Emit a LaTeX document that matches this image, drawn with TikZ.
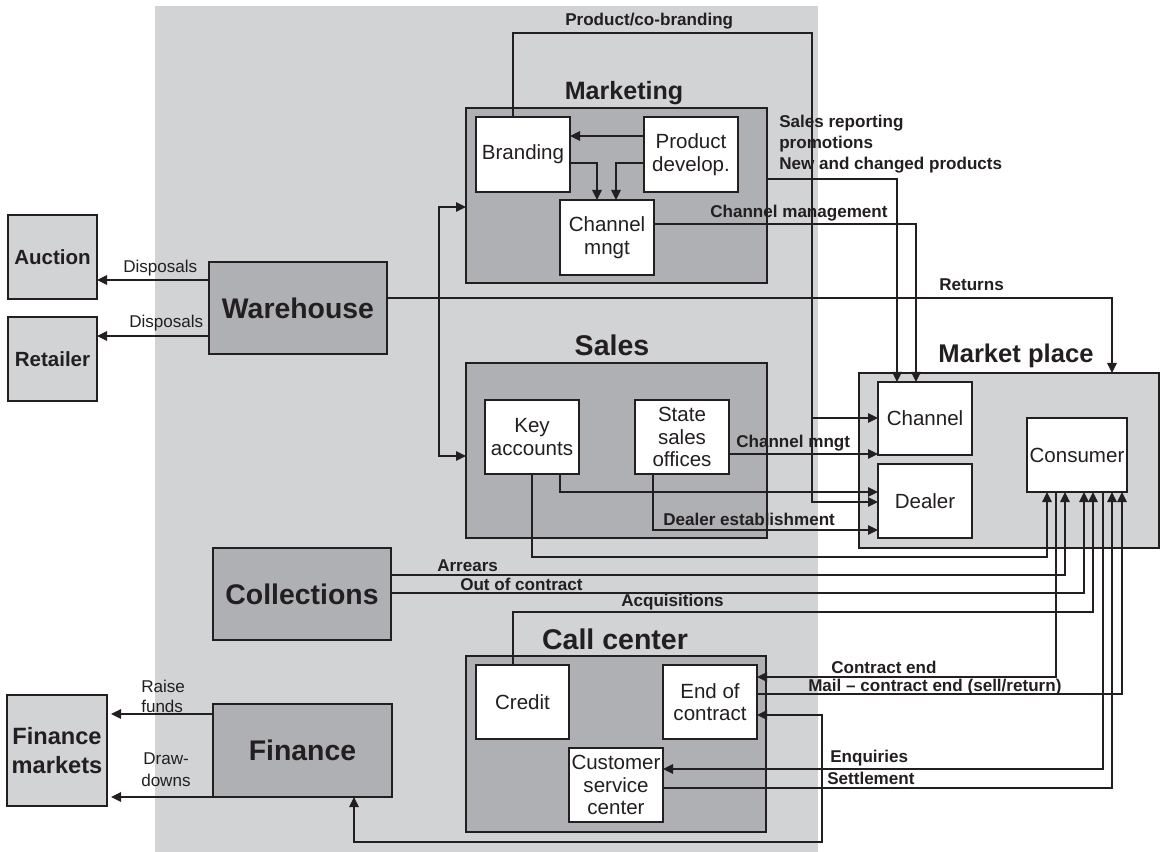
\documentclass[tikz,border=0pt]{standalone}
\usepackage{fontspec}
\setmainfont{Liberation Sans}
\usetikzlibrary{arrows.meta}
\definecolor{lightg}{HTML}{D1D3D4}
\definecolor{darkg}{HTML}{AFB0B3}
\definecolor{linec}{HTML}{231F20}
\newcommand\mkbox[7]{\node[#1, minimum width={(#5-#3)*0.75pt}, minimum height={(#6-#4)*0.75pt}] (#2) at ({(#3+#5)/2},{(#4+#6)/2}) {#7};}
\begin{document}
\begin{tikzpicture}[x=0.75pt,y=-0.75pt,
  box/.style={draw=linec, line width=1pt, inner sep=0pt, outer sep=0pt, align=center, text=linec},
  dbox/.style={box, fill=darkg, font=\bfseries\fontsize{21.3}{24}\selectfont},
  cbox/.style={box, fill=darkg},
  lbox/.style={box, fill=lightg},
  ext/.style={lbox, font=\bfseries\fontsize{15.4}{21.5}\selectfont},
  wbox/.style={box, fill=white, font=\fontsize{15.4}{17}\selectfont},
  ttl/.style={anchor=base, inner sep=0pt, text=linec, font=\bfseries\fontsize{21.4}{24}\selectfont},
  lab/.style={anchor=base west, inner sep=0pt, text=linec, font=\bfseries\fontsize{12.8}{15}\selectfont},
  rlab/.style={anchor=base west, inner sep=0pt, text=linec, font=\fontsize{12.8}{15}\selectfont},
  con/.style={draw=linec, line width=0.9pt},
  arr/.style={con, -{Triangle[length=7.5pt,width=7.2pt]}},
  darr/.style={con, {Triangle[length=7.5pt,width=7.2pt]}-{Triangle[length=7.5pt,width=7.2pt]}}
]
\useasboundingbox (0,0) rectangle (1161,852);
\fill[lightg] (155,6) rectangle (818,852);

% left external boxes
\mkbox{ext}{auction}{8}{215}{97}{299}{Auction}
\mkbox{ext}{retailer}{8}{317}{97}{401}{Retailer}
\mkbox{ext,font=\bfseries\fontsize{17.7}{21.5}\selectfont}{finmkt}{7}{695}{107}{806}{Finance\\markets}

% departments
\mkbox{dbox}{warehouse}{209}{262}{387}{354}{Warehouse}
\mkbox{dbox}{collections}{213}{548}{391}{640}{Collections}
\mkbox{dbox}{finance}{213}{704}{392}{797}{Finance}

% Marketing
\mkbox{cbox}{marketing}{466}{108}{767}{283}{}
\node[ttl, font=\bfseries\fontsize{18.8}{22}\selectfont] (marketingt) at (624,100) {Marketing};
\mkbox{wbox}{branding}{476}{117}{570}{192}{Branding}
\mkbox{wbox}{proddev}{644}{117}{738}{192}{Product\\develop.}
\mkbox{wbox}{chmngt}{560}{200}{654}{275}{Channel\\mngt}

% Sales
\mkbox{cbox}{sales}{466}{363}{767}{538}{}
\node[ttl] (salest) at (612,356) {Sales};
\mkbox{wbox}{keyacc}{485}{400}{579}{474}{Key\\accounts}
\mkbox{wbox}{stateso}{635}{400}{729}{474}{State\\sales\\offices}

% Call center
\mkbox{cbox}{callc}{466}{656}{766}{832}{}
\node[ttl] (callct) at (615,649) {Call center};
\mkbox{wbox}{credit}{476}{665}{569}{739}{Credit}
\mkbox{wbox}{eoc}{663}{665}{757}{739}{End of\\contract}
\mkbox{wbox}{csc}{569}{748}{663}{822}{Customer\\service\\center}

% Market place
\mkbox{lbox}{market}{859}{373}{1159}{548}{}
\node[ttl, font=\bfseries\fontsize{19.2}{22}\selectfont] (markett) at (1016,363) {Market place};
\mkbox{wbox}{channel}{878}{382}{972}{455}{Channel}
\mkbox{wbox}{dealer}{878}{464}{972}{538}{Dealer}
\mkbox{wbox}{consumer}{1027}{418}{1127}{492}{Consumer}

% ---- connectors ----
% inside marketing
\draw[arr] (proddev.west|-0,136) -- (branding.east|-0,136);
\draw[arr] (branding.east|-0,163) -| (chmngt.north-|597,0);
\draw[arr] (proddev.west|-0,163) -| (chmngt.north-|616,0);

% product / co-branding
\coordinate (pcbtop) at (812,33);
\coordinate (pcbch) at (812,418);
\draw[arr] (branding.north-|513,0) |- (pcbtop) |- (dealer.west|-0,502);
\draw[arr] (pcbch) -- (channel.west|-0,418);

% marketing to channel
\draw[arr] (marketing.east|-0,179) -| (channel.north-|897,0);
\draw[arr] (chmngt.east|-0,224) -| (channel.north-|916,0);

% warehouse
\draw[arr] (warehouse.east|-0,298) -| (market.north-|1112,0);
\draw[arr] (warehouse.west|-0,280) -- (auction.east|-0,280);
\draw[arr] (warehouse.west|-0,336) -- (retailer.east|-0,336);

% marketing <-> sales
\coordinate (ms1) at (439,207);
\coordinate (ms2) at (439,456);
\draw[darr] (marketing.west|-0,207) -- (ms1) -- (ms2) -- (sales.west|-0,456);

% sales to market place
\draw[arr] (stateso.east|-0,454) -- (channel.west|-0,454);
\draw[arr] (keyacc.south-|560,0) |- (dealer.west|-0,492);
\draw[arr] (stateso.south-|653,0) |- (dealer.west|-0,530);
\draw[arr] (keyacc.south-|532,0) |- (1047,557) -- (consumer.south-|1047,0);

% collections
\draw[arr] (collections.east|-0,575) -| (consumer.south-|1065,0);
\draw[arr] (collections.east|-0,593) -| (consumer.south-|1084,0);

% call center
\draw[arr] (credit.north-|513,0) |- (1093,612) -- (consumer.south-|1093,0);
\draw[arr] (consumer.south-|1056,0) |- (eoc.east|-0,677);
\draw[arr] (eoc.east|-0,694) -| (consumer.south-|1122,0);
\draw[arr] (consumer.south-|1103,0) |- (csc.east|-0,769);
\draw[arr] (csc.east|-0,788) -| (consumer.south-|1112,0);
\coordinate (ef1) at (822,715);
\coordinate (ef2) at (822,842);
\coordinate (ef3) at (354,842);
\draw[darr] (eoc.east|-0,715) -- (ef1) -- (ef2) -- (ef3) -- (finance.south-|354,0);

% finance
\draw[arr, shorten >=3pt] (finance.west|-0,714) -- (finmkt.east|-0,714);
\draw[arr, shorten >=3pt] (finance.west|-0,797) -- (finmkt.east|-0,797);

% ---- labels ----
\node[lab] (l1) at (565,26) {Product/co-branding};
\node[lab] (l2) at (779,128) {Sales reporting};
\node[lab] (l3) at (779,149) {promotions};
\node[lab] (l4) at (779,170) {New and changed products};
\node[lab] (l5) at (710,218) {Channel management};
\node[lab] (l6) at (939,291) {Returns};
\node[lab] (l7) at (736,447) {Channel mngt};
\node[lab] (l8) at (663,525) {Dealer establishment};
\node[lab] (l9) at (437,571) {Arrears};
\node[lab] (l10) at (460,590) {Out of contract};
\node[lab] (l11) at (621,606) {Acquisitions};
\node[lab] (l12) at (831,673) {Contract end};
\node[lab] (l13) at (808,691) {Mail -- contract end (sell/return)};
\node[lab] (l14) at (830,762) {Enquiries};
\node[lab] (l15) at (827,784) {Settlement};
\node[rlab] (l16) at (123,273) {Disposals};
\node[rlab] (l17) at (129,328) {Disposals};
\node[rlab] (l18) at (141,692) {Raise};
\node[rlab] (l19) at (141,712) {funds};
\node[rlab] (l20) at (143,764) {Draw-};
\node[rlab] (l21) at (141,786) {downs};
\end{tikzpicture}
\end{document}
